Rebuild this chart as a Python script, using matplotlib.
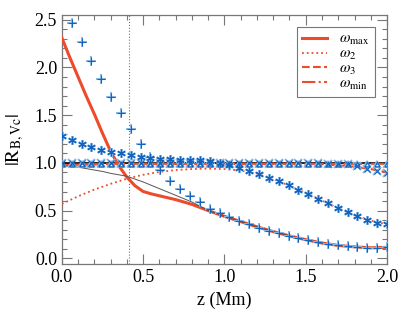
import numpy as np
import matplotlib
matplotlib.use("Agg")
import matplotlib.pyplot as plt
from matplotlib.ticker import MultipleLocator

plt.rcParams['font.family'] = ['Liberation Serif', 'DejaVu Serif']
plt.rcParams['mathtext.fontset'] = 'stix'

# model curves (z in Mm)
z_max = [0.0, 0.05, 0.10, 0.15, 0.20, 0.25, 0.30, 0.35, 0.40, 0.45, 0.50, 0.55,
         0.60, 0.70, 0.80, 0.90, 1.00, 1.10, 1.20, 1.30, 1.40, 1.50, 1.60,
         1.70, 1.80, 1.90, 2.00]
w_max = [2.31, 2.10, 1.90, 1.70, 1.51, 1.31, 1.12, 0.97, 0.85, 0.76, 0.70, 0.675,
         0.655, 0.615, 0.565, 0.50, 0.44, 0.385, 0.33, 0.28, 0.235, 0.195, 0.16,
         0.135, 0.12, 0.11, 0.115]
w_ref = [0.97, 0.965, 0.955, 0.94, 0.925, 0.91, 0.89, 0.875, 0.86, 0.83, 0.80, 0.765,
         0.73, 0.66, 0.59, 0.50, 0.44, 0.385, 0.33, 0.28, 0.235, 0.195, 0.16,
         0.135, 0.12, 0.11, 0.115]

z_2 = [0.0, 0.1, 0.2, 0.3, 0.41, 0.5, 0.6, 0.7, 0.8, 0.9, 1.0, 1.1, 1.2, 1.3,
       1.4, 1.5, 1.6, 1.7, 1.8, 1.9, 2.0]
w_2 = [0.57, 0.65, 0.72, 0.78, 0.84, 0.875, 0.905, 0.925, 0.935, 0.94, 0.935,
       0.92, 0.885, 0.83, 0.76, 0.685, 0.605, 0.525, 0.45, 0.395, 0.355]

z_3 = [0.0, 0.1, 0.2, 0.3, 0.5, 1.0, 1.5, 1.6, 1.7, 1.8, 1.9, 2.0]
w_3 = [0.975, 0.98, 0.985, 0.99, 0.99, 0.99, 0.99, 0.985, 0.975, 0.96, 0.935, 0.90]
w_min = [0.97, 0.98, 0.985, 0.99, 0.99, 0.99, 0.99, 0.99, 0.99, 0.99, 0.99, 0.99]

# simulation points
z_pts = [0.0, 0.061, 0.121, 0.182, 0.242, 0.303, 0.364, 0.424, 0.485, 0.545,
         0.606, 0.667, 0.727, 0.788, 0.848, 0.909, 0.970, 1.030, 1.091, 1.152,
         1.212, 1.273, 1.333, 1.394, 1.455, 1.515, 1.576, 1.636, 1.697, 1.758,
         1.818, 1.879, 1.939, 2.0]
p_max = [2.68, 2.47, 2.27, 2.07, 1.88, 1.69, 1.52, 1.35, 1.20, 1.06,
         0.93, 0.81, 0.725, 0.65, 0.585, 0.52, 0.47, 0.43, 0.39, 0.355,
         0.32, 0.29, 0.26, 0.235, 0.21, 0.19, 0.17, 0.155, 0.14, 0.128,
         0.12, 0.113, 0.11, 0.115]
p_2 = [1.28, 1.24, 1.20, 1.17, 1.14, 1.115, 1.10, 1.08, 1.065, 1.055,
       1.045, 1.04, 1.035, 1.03, 1.025, 1.02, 1.0, 0.98, 0.95, 0.915,
       0.88, 0.845, 0.805, 0.765, 0.72, 0.675, 0.625, 0.58, 0.53, 0.48,
       0.44, 0.40, 0.375, 0.355]
p_3 = [1.0, 1.0, 1.0, 1.0, 1.0, 1.0, 1.0, 1.0, 0.995, 0.995,
       0.995, 0.995, 0.995, 0.995, 0.995, 0.995, 0.995, 0.995, 0.995, 0.995,
       0.995, 0.995, 0.995, 0.995, 0.995, 0.995, 0.995, 0.99, 0.99, 0.985,
       0.965, 0.94, 0.915, 0.89]
p_min = [0.985] * 34

z_cut = 0.41

red = '#ee4b2b'
light = '#86b9ea'
dark = '#1463b8'

fig = plt.figure(figsize=(4.07, 3.11), dpi=100)
ax = fig.add_axes([0.152, 0.151, 0.799, 0.801])

ax.axhline(1.0, color='black', lw=1.2, zorder=2)
ax.axvline(z_cut, color='#777777', lw=0.8, ls=':', zorder=1)

ax.plot(z_max, w_max, color=red, lw=2.2, label=r'$\omega_{\rm max}$', zorder=3)
ax.plot(z_2, w_2, color=red, lw=1.3, ls=':', label=r'$\omega_{2}$', zorder=3)
ax.plot(z_3, w_3, color=red, lw=1.5, ls='--', label=r'$\omega_{3}$', zorder=3)
ax.plot(z_3, w_min, color=red, lw=1.5, ls='-.', label=r'$\omega_{\rm min}$', zorder=3)
ax.plot(z_max, w_ref, color='#555555', lw=0.7, zorder=4)

asterisk = (6, 2, 0)
for vals, mk, ms in [(p_min, '^', 3.5), (p_3, 'x', 4.5), (p_2, asterisk, 5.5), (p_max, '+', 5.5)]:
    ax.plot(z_pts, vals, ls='none', marker=mk, ms=ms + 1, mew=1.4, mfc='none',
            mec=light, zorder=5)
    ax.plot(z_pts, vals, ls='none', marker=mk, ms=ms, mew=0.8, mfc='none',
            mec=dark, zorder=6)

ax.set_xlim(0, 2.0)
ax.set_ylim(-0.06, 2.55)
ax.xaxis.set_major_locator(MultipleLocator(0.5))
ax.xaxis.set_minor_locator(MultipleLocator(0.1))
ax.yaxis.set_major_locator(MultipleLocator(0.5))
ax.yaxis.set_minor_locator(MultipleLocator(0.1))
ax.tick_params(which='both', direction='in', top=True, right=True,
               color='#777777', labelsize=13)
ax.tick_params(which='major', length=7, width=0.8)
ax.tick_params(which='minor', length=3.5, width=0.8)
for s in ax.spines.values():
    s.set_color('#777777')
    s.set_linewidth(0.9)

ax.set_xlabel('z (Mm)', fontsize=13, labelpad=4)
ax.set_ylabel(r'$|\mathrm{R}_{\mathrm{B,Vc}}|$', fontsize=14, labelpad=6)

leg = ax.legend(loc='upper right', fontsize=11, handlelength=1.6,
                handletextpad=0.8, labelspacing=0.0, borderpad=0.35,
                fancybox=False, framealpha=1, edgecolor='#777777',
                borderaxespad=0.8)
leg.get_frame().set_linewidth(0.8)

fig.savefig('out.png', dpi=100)
